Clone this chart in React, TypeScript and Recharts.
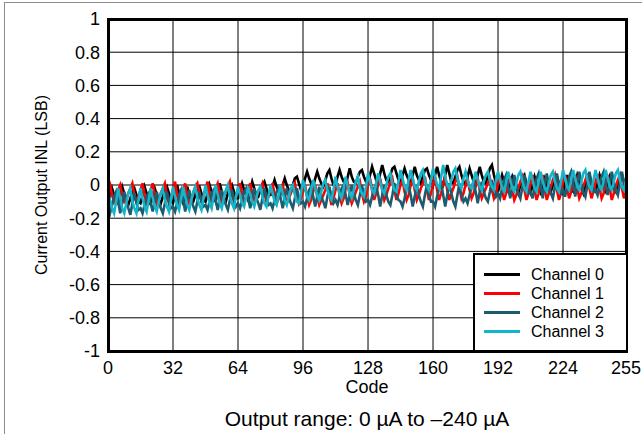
import { LineChart, Line, XAxis, YAxis, CartesianGrid } from "recharts";

const seriesNames = ["Channel 0", "Channel 1", "Channel 2", "Channel 3"];
const seriesColors = ["#000000", "#ff0000", "#1b5c6e", "#12b5c9"];

const xTicks = [0, 32, 64, 96, 128, 160, 192, 224, 255];
const yTicks = [-1, -0.8, -0.6, -0.4, -0.2, 0, 0.2, 0.4, 0.6, 0.8, 1];

// INL per code (16 codes per row)
const channel0 = [
  -0.12, -0.07, -0.02, -0.06, -0.09, -0.11, -0.06, -0.01, -0.05, -0.09, -0.12, -0.08, -0.04, -0.02, -0.06, -0.1,
  -0.11, -0.06, -0.01, -0.05, -0.08, -0.12, -0.06, -0.02, -0.06, -0.09, -0.11, -0.07, -0.03, -0.01, -0.05, -0.09,
  -0.11, -0.05, 0.0, -0.05, -0.08, -0.11, -0.06, -0.01, -0.06, -0.09, -0.1, -0.06, -0.02, -0.01, -0.05, -0.09,
  -0.1, -0.05, 0.0, -0.04, -0.07, -0.1, -0.04, 0.01, -0.04, -0.08, -0.1, -0.05, -0.02, 0.0, -0.04, -0.08,
  -0.08, -0.03, 0.01, -0.03, -0.06, -0.09, -0.03, 0.02, -0.02, -0.06, -0.07, -0.03, 0.0, 0.02, -0.02, -0.06,
  -0.06, -0.01, 0.03, -0.01, -0.04, -0.05, 0.0, 0.04, 0.0, -0.03, -0.04, 0.0, 0.04, 0.05, 0.01, -0.03,
  -0.02, 0.04, 0.08, 0.04, 0.01, -0.01, 0.04, 0.08, 0.04, 0.01, -0.01, 0.03, 0.07, 0.09, 0.04, 0.0,
  0.0, 0.05, 0.09, 0.05, 0.02, 0.0, 0.05, 0.1, 0.05, 0.02, 0.01, 0.05, 0.08, 0.09, 0.05, 0.02,
  0.01, 0.06, 0.11, 0.07, 0.03, 0.01, 0.07, 0.12, 0.07, 0.03, 0.02, 0.06, 0.1, 0.11, 0.07, 0.03,
  0.01, 0.06, 0.1, 0.06, 0.03, 0.01, 0.06, 0.11, 0.06, 0.03, 0.01, 0.05, 0.09, 0.1, 0.06, 0.03,
  0.0, 0.06, 0.11, 0.06, 0.02, 0.0, 0.06, 0.12, 0.07, 0.02, 0.01, 0.05, 0.09, 0.11, 0.06, 0.02,
  0.0, 0.05, 0.1, 0.06, 0.02, 0.0, 0.06, 0.11, 0.06, 0.02, 0.01, 0.06, 0.1, 0.12, 0.06, 0.01,
  -0.04, 0.01, 0.06, 0.02, -0.02, -0.04, 0.01, 0.05, 0.01, -0.02, -0.05, 0.0, 0.04, 0.06, 0.01, -0.03,
  -0.05, 0.0, 0.05, 0.01, -0.03, -0.05, 0.0, 0.04, 0.0, -0.03, -0.04, 0.0, 0.04, 0.05, 0.01, -0.03,
  -0.05, 0.01, 0.06, 0.01, -0.03, -0.04, 0.01, 0.06, 0.02, -0.02, -0.05, 0.0, 0.05, 0.06, 0.01, -0.03,
  -0.04, 0.01, 0.06, 0.02, -0.02, -0.04, 0.01, 0.05, 0.01, -0.02, -0.04, 0.01, 0.04, 0.06, 0.02, -0.02,
];

const channel1 = [
  -0.03, 0.0, -0.06, -0.1, -0.07, -0.03, 0.0, -0.06, -0.1, -0.08, -0.05, -0.02, 0.01, -0.06, -0.1, -0.07,
  -0.03, 0.01, -0.06, -0.11, -0.08, -0.03, 0.01, -0.06, -0.11, -0.08, -0.05, -0.02, 0.01, -0.06, -0.11, -0.07,
  -0.03, 0.02, -0.06, -0.11, -0.07, -0.03, 0.01, -0.07, -0.11, -0.08, -0.05, -0.01, 0.01, -0.05, -0.1, -0.07,
  -0.02, 0.02, -0.05, -0.1, -0.07, -0.02, 0.01, -0.05, -0.1, -0.07, -0.04, -0.01, 0.02, -0.05, -0.1, -0.07,
  -0.03, 0.01, -0.05, -0.1, -0.07, -0.03, 0.01, -0.05, -0.09, -0.07, -0.04, -0.02, 0.01, -0.05, -0.1, -0.07,
  -0.03, 0.01, -0.06, -0.11, -0.08, -0.03, 0.0, -0.06, -0.11, -0.08, -0.05, -0.02, 0.01, -0.06, -0.11, -0.08,
  -0.04, 0.0, -0.07, -0.12, -0.09, -0.04, 0.0, -0.07, -0.12, -0.09, -0.06, -0.03, 0.01, -0.06, -0.12, -0.08,
  -0.03, 0.01, -0.06, -0.11, -0.08, -0.02, 0.01, -0.06, -0.11, -0.08, -0.04, -0.01, 0.02, -0.05, -0.1, -0.07,
  0.0, 0.04, -0.03, -0.09, -0.05, 0.0, 0.04, -0.03, -0.09, -0.06, -0.02, 0.01, 0.04, -0.03, -0.09, -0.05,
  0.0, 0.03, -0.04, -0.09, -0.06, 0.0, 0.04, -0.03, -0.09, -0.06, -0.02, 0.01, 0.05, -0.03, -0.09, -0.05,
  0.01, 0.05, -0.03, -0.09, -0.05, 0.01, 0.05, -0.03, -0.09, -0.05, -0.02, 0.02, 0.05, -0.02, -0.08, -0.05,
  0.0, 0.04, -0.03, -0.08, -0.05, 0.0, 0.04, -0.03, -0.08, -0.05, -0.02, 0.01, 0.04, -0.03, -0.08, -0.05,
  0.01, 0.05, -0.03, -0.09, -0.05, 0.01, 0.05, -0.03, -0.09, -0.06, -0.02, 0.02, 0.05, -0.03, -0.09, -0.05,
  0.01, 0.06, -0.03, -0.09, -0.05, 0.02, 0.06, -0.02, -0.09, -0.05, -0.01, 0.03, 0.06, -0.03, -0.09, -0.05,
  0.02, 0.06, -0.02, -0.08, -0.04, 0.02, 0.06, -0.02, -0.08, -0.05, -0.01, 0.03, 0.07, -0.02, -0.08, -0.04,
  0.02, 0.06, -0.02, -0.08, -0.05, 0.02, 0.06, -0.02, -0.09, -0.05, -0.01, 0.03, 0.06, -0.02, -0.08, -0.04,
];

const channel2 = [
  -0.14, -0.17, -0.12, -0.07, -0.04, -0.1, -0.17, -0.1, -0.04, -0.1, -0.14, -0.18, -0.11, -0.05, -0.11, -0.15,
  -0.14, -0.17, -0.12, -0.07, -0.05, -0.11, -0.16, -0.1, -0.04, -0.1, -0.14, -0.17, -0.11, -0.04, -0.1, -0.14,
  -0.13, -0.16, -0.11, -0.06, -0.03, -0.09, -0.16, -0.09, -0.03, -0.09, -0.13, -0.16, -0.1, -0.04, -0.1, -0.13,
  -0.12, -0.15, -0.1, -0.05, -0.03, -0.09, -0.15, -0.09, -0.03, -0.08, -0.12, -0.15, -0.09, -0.03, -0.09, -0.13,
  -0.11, -0.14, -0.09, -0.04, -0.02, -0.08, -0.14, -0.08, -0.02, -0.08, -0.11, -0.15, -0.08, -0.02, -0.08, -0.12,
  -0.11, -0.14, -0.09, -0.04, -0.02, -0.08, -0.14, -0.08, -0.02, -0.07, -0.11, -0.14, -0.08, -0.02, -0.08, -0.11,
  -0.1, -0.13, -0.08, -0.03, -0.01, -0.07, -0.13, -0.07, -0.01, -0.07, -0.1, -0.14, -0.07, -0.01, -0.07, -0.11,
  -0.09, -0.12, -0.07, -0.02, 0.0, -0.06, -0.12, -0.06, 0.0, -0.05, -0.09, -0.12, -0.06, 0.0, -0.06, -0.1,
  -0.09, -0.12, -0.07, -0.02, 0.0, -0.06, -0.13, -0.06, 0.0, -0.06, -0.1, -0.12, -0.06, 0.01, -0.06, -0.09,
  -0.1, -0.13, -0.08, -0.02, 0.0, -0.06, -0.13, -0.07, 0.0, -0.06, -0.1, -0.13, -0.06, 0.0, -0.06, -0.1,
  -0.1, -0.13, -0.07, -0.02, 0.01, -0.06, -0.13, -0.06, 0.01, -0.05, -0.1, -0.13, -0.06, 0.01, -0.06, -0.1,
  -0.08, -0.11, -0.06, -0.01, 0.02, -0.04, -0.11, -0.04, 0.02, -0.04, -0.08, -0.1, -0.04, 0.03, -0.03, -0.07,
  -0.05, -0.08, -0.02, 0.03, 0.06, -0.01, -0.08, -0.01, 0.06, 0.0, -0.05, -0.08, -0.01, 0.06, -0.01, -0.05,
  -0.04, -0.08, -0.02, 0.04, 0.07, 0.0, -0.08, 0.0, 0.07, 0.0, -0.05, -0.08, -0.01, 0.07, 0.0, -0.05,
  -0.03, -0.07, -0.01, 0.05, 0.08, 0.01, -0.07, 0.01, 0.08, 0.01, -0.04, -0.07, 0.0, 0.08, 0.01, -0.04,
  -0.03, -0.06, 0.0, 0.05, 0.08, 0.01, -0.06, 0.01, 0.08, 0.02, -0.03, -0.06, 0.01, 0.08, 0.01, -0.03,
];

const channel3 = [
  -0.03, -0.09, -0.14, -0.17, -0.1, -0.02, -0.08, -0.14, -0.17, -0.11, -0.05, -0.02, -0.1, -0.14, -0.17, -0.09,
  -0.02, -0.08, -0.13, -0.16, -0.09, -0.02, -0.08, -0.13, -0.16, -0.1, -0.05, -0.02, -0.09, -0.13, -0.16, -0.09,
  -0.01, -0.07, -0.12, -0.15, -0.08, -0.01, -0.07, -0.12, -0.15, -0.09, -0.04, -0.01, -0.08, -0.12, -0.15, -0.08,
  0.0, -0.06, -0.11, -0.14, -0.07, 0.0, -0.06, -0.11, -0.14, -0.08, -0.03, 0.0, -0.07, -0.11, -0.14, -0.07,
  -0.01, -0.06, -0.11, -0.13, -0.07, -0.01, -0.06, -0.1, -0.13, -0.08, -0.03, -0.01, -0.07, -0.11, -0.13, -0.07,
  0.0, -0.05, -0.1, -0.12, -0.06, 0.0, -0.05, -0.09, -0.12, -0.07, -0.02, 0.0, -0.06, -0.1, -0.11, -0.05,
  0.03, -0.02, -0.07, -0.09, -0.03, 0.03, -0.02, -0.06, -0.09, -0.04, 0.01, 0.03, -0.03, -0.07, -0.09, -0.03,
  0.05, -0.01, -0.05, -0.08, -0.02, 0.05, -0.01, -0.05, -0.08, -0.03, 0.02, 0.05, -0.02, -0.05, -0.07, -0.01,
  0.07, 0.02, -0.03, -0.05, 0.01, 0.07, 0.02, -0.03, -0.05, 0.0, 0.05, 0.07, 0.01, -0.03, -0.04, 0.02,
  0.09, 0.04, -0.01, -0.03, 0.03, 0.09, 0.04, -0.01, -0.03, 0.02, 0.07, 0.09, 0.03, -0.01, -0.03, 0.03,
  0.1, 0.05, 0.0, -0.02, 0.05, 0.12, 0.05, 0.0, -0.02, 0.03, 0.08, 0.1, 0.04, 0.0, -0.02, 0.04,
  0.08, 0.03, -0.01, -0.02, 0.03, 0.08, 0.03, -0.01, -0.03, 0.02, 0.06, 0.08, 0.03, -0.01, -0.03, 0.03,
  0.08, 0.03, -0.02, -0.04, 0.02, 0.08, 0.03, -0.02, -0.04, 0.01, 0.06, 0.08, 0.02, -0.02, -0.04, 0.02,
  0.08, 0.03, -0.02, -0.04, 0.02, 0.08, 0.02, -0.02, -0.04, 0.01, 0.06, 0.08, 0.02, -0.02, -0.04, 0.02,
  0.09, 0.04, -0.01, -0.03, 0.03, 0.09, 0.04, -0.01, -0.03, 0.02, 0.07, 0.09, 0.03, -0.01, -0.03, 0.03,
  0.09, 0.04, -0.01, -0.03, 0.03, 0.09, 0.04, -0.01, -0.03, 0.02, 0.07, 0.09, 0.03, -0.01, -0.03, 0.03,
];

const channels = [channel0, channel1, channel2, channel3];
const codes = channel0.map((_, i) => i);

const data = codes.map((code, i) => ({
  code,
  ch0: channel0[i],
  ch1: channel1[i],
  ch2: channel2[i],
  ch3: channel3[i],
}));

const font = "'Liberation Sans', Arial, sans-serif";

function LegendBox() {
  return (
    <div
      style={{
        position: "absolute",
        left: 473,
        top: 253,
        width: 155,
        height: 99,
        boxSizing: "border-box",
        border: "2px solid #000",
        background: "#fff",
        paddingTop: 10,
        fontFamily: font,
        fontSize: 16,
        color: "#000",
      }}
    >
      {seriesNames.map((name, i) => (
        <div key={name} style={{ display: "flex", alignItems: "center", height: 19 }}>
          <div style={{ width: 36, height: 3, background: seriesColors[i], marginLeft: 9, marginRight: 11 }} />
          <span>{name}</span>
        </div>
      ))}
    </div>
  );
}

export default function App() {
  return (
    <div style={{ position: "absolute", left: 0, top: 0, width: 642, height: 434, background: "#fff" }}>
      <div
        style={{
          position: "absolute",
          left: 4,
          top: 2,
          width: 638,
          height: 432,
          borderLeft: "1px solid #8c8c8c",
          borderTop: "1px solid #8c8c8c",
        }}
      />

      <LineChart
        width={642}
        height={434}
        data={data}
        margin={{ top: 19, right: 16, bottom: 43, left: 48 }}
      >
        <CartesianGrid stroke="#000" strokeWidth={1} strokeOpacity={1} />
        <XAxis
          dataKey="code"
          type="number"
          domain={[0, 255]}
          ticks={xTicks}
          interval={0}
          height={40}
          tickLine={false}
          axisLine={false}
          tickSize={0}
          tickMargin={10}
          tick={{ fill: "#000", fontSize: 18, fontFamily: font }}
        />
        <YAxis
          type="number"
          domain={[-1, 1]}
          ticks={yTicks}
          interval={0}
          width={60}
          tickLine={false}
          axisLine={false}
          tickSize={0}
          tickMargin={8}
          tick={{ fill: "#000", fontSize: 18, fontFamily: font }}
        />
        {channels.map((_, i) => (
          <Line
            key={seriesNames[i]}
            type="linear"
            dataKey={`ch${i}`}
            name={seriesNames[i]}
            stroke={seriesColors[i]}
            strokeWidth={2.6}
            dot={false}
            isAnimationActive={false}
          />
        ))}
      </LineChart>

      <div
        style={{
          position: "absolute",
          left: 107,
          top: 18,
          width: 521,
          height: 335,
          boxSizing: "border-box",
          border: "3px solid #000",
          pointerEvents: "none",
        }}
      />

      <LegendBox />

      <div
        style={{
          position: "absolute",
          left: 42,
          top: 185,
          transform: "translate(-50%, -50%) rotate(-90deg)",
          whiteSpace: "nowrap",
          fontFamily: font,
          fontSize: 16,
          color: "#000",
        }}
      >
        Current Output INL (LSB)
      </div>
      <div
        style={{
          position: "absolute",
          left: 367,
          top: 387,
          transform: "translate(-50%, -50%)",
          fontFamily: font,
          fontSize: 18,
          color: "#000",
        }}
      >
        Code
      </div>
      <div
        style={{
          position: "absolute",
          left: 367,
          top: 419,
          transform: "translate(-50%, -50%)",
          whiteSpace: "nowrap",
          fontFamily: font,
          fontSize: 21,
          color: "#000",
        }}
      >
        Output range: 0 µA to –240 µA
      </div>
    </div>
  );
}
